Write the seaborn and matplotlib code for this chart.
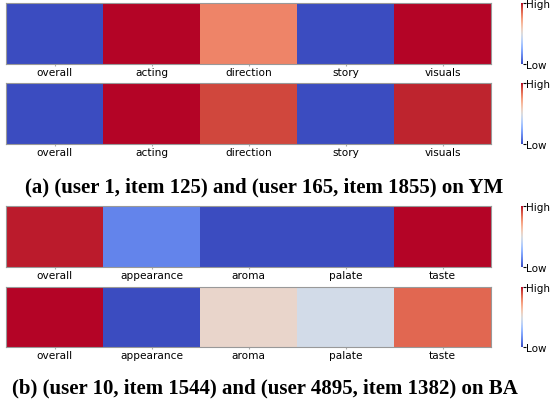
import numpy as np
import pandas as pd
import matplotlib
matplotlib.use("Agg")
import matplotlib.pyplot as plt
import seaborn as sns

# aspect names and per-pair importance (0 = low, 1 = high)
ym_aspects = ['overall', 'acting', 'direction', 'story', 'visuals']
ba_aspects = ['overall', 'appearance', 'aroma', 'palate', 'taste']

ym_pair1 = [0.0, 1.0, 0.80, 0.0, 1.0]
ym_pair2 = [0.0, 1.0, 0.92, 0.0, 0.97]
ba_pair1 = [0.98, 0.13, 0.0, 0.0, 1.0]
ba_pair2 = [1.0, 0.0, 0.55, 0.46, 0.86]

cap_a = '(a) (user 1, item 125) and (user 165, item 1855) on YM'
cap_b = '(b) (user 10, item 1544) and (user 4895, item 1382) on BA'

W, H = 551, 406
fig = plt.figure(figsize=(W / 100, H / 100), dpi=100)


def px_box(x0, y0, x1, y1):
    # pixel box -> figure fraction
    return [x0 / W, 1 - y1 / H, (x1 - x0) / W, (y1 - y0) / H]


def draw_row(vals, names, top, bot):
    ax = fig.add_axes(px_box(6, top, 491, bot))
    cax = fig.add_axes(px_box(520.5, top, 523, bot))
    df = pd.DataFrame([vals], columns=names)
    sns.heatmap(df, ax=ax, cbar_ax=cax, cmap='coolwarm', vmin=0, vmax=1,
                xticklabels=names, yticklabels=False)
    ax.tick_params(axis='x', labelsize=7.6, length=1.5, color='#aaaaaa', pad=0.8, rotation=0)
    for s in ax.spines.values():
        s.set_visible(True)
        s.set_color('#999999')
        s.set_linewidth(0.8)
    cax.set_yticks([0, 1])
    cax.set_yticklabels(['Low', 'High'])
    cax.tick_params(axis='y', labelsize=7.5, length=2, pad=0.3)
    for s in cax.spines.values():
        s.set_visible(False)


draw_row(ym_pair1, ym_aspects, 4, 65)
draw_row(ym_pair2, ym_aspects, 84, 145)
draw_row(ba_pair1, ba_aspects, 207, 268)
draw_row(ba_pair2, ba_aspects, 288, 348)

fig.text(264.5 / W, 1 - 187 / H, cap_a, ha='center', va='center',
         fontsize=15, fontweight='bold', family='Liberation Serif')
fig.text(264.5 / W, 1 - 388 / H, cap_b, ha='center', va='center',
         fontsize=15, fontweight='bold', family='Liberation Serif')

fig.savefig('out.png', dpi=100)
